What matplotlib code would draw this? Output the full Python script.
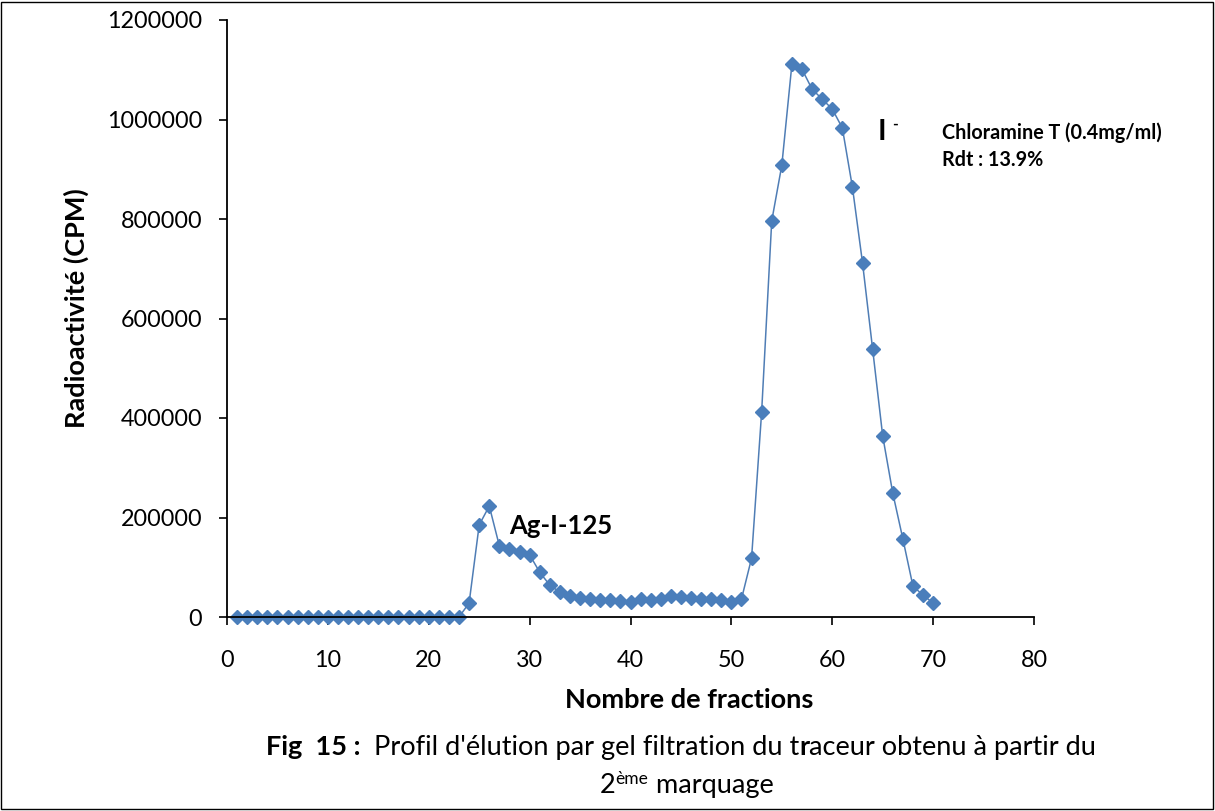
import matplotlib.pyplot as plt
from matplotlib.patches import Rectangle
from matplotlib.ticker import FuncFormatter

plt.rcParams['font.family'] = ['Lato', 'DejaVu Sans']

# Elution profile (fractions 1..70)
fractions = list(range(1, 71))
cpm = [0] * 23 + [
    28000, 185000, 223000, 143000, 137000, 131000, 125000, 90000, 64000, 50000,
    42000, 38000, 36000, 34000, 34000, 32000, 30000, 36000, 34000, 36000,
    42000, 40000, 38000, 36000, 36000, 34000, 30000, 36000, 118000, 412000,
    796000, 908000, 1111000, 1101000, 1061000, 1041000, 1021000, 983000, 864000, 712000,
    539000, 364000, 249000, 157000, 62000, 44000, 28000,
]

xticks = list(range(0, 90, 10))
yticks = list(range(0, 1400000, 200000))

W, H = 1215, 811
fig = plt.figure(figsize=(W / 100, H / 100), dpi=100)
ax = fig.add_axes([227 / W, 1 - 617 / H, (1034 - 227) / W, (617 - 20) / H])

ax.plot(fractions, cpm, color='#4F7DB5', lw=1.1, marker='D', ms=7,
        mfc='#4A7EBB', mec='#4A7EBB', clip_on=False)

ax.set_xlim(0, 80)
ax.set_ylim(0, 1200000)
ax.set_xticks(xticks)
ax.set_yticks(yticks)
ax.yaxis.set_major_formatter(FuncFormatter(lambda v, p: '%d' % v))
ax.tick_params(labelsize=16.8, direction='out', length=6, width=1.2, color='black')
ax.tick_params(axis='y', pad=12)
ax.tick_params(axis='x', pad=18)
ax.spines['top'].set_visible(False)
ax.spines['right'].set_visible(False)
for s in ['left', 'bottom']:
    ax.spines[s].set_linewidth(1.3)

ax.set_xlabel('Nombre de fractions', fontsize=19.5, fontweight='bold')
ax.set_ylabel('Radioactivité (CPM)', fontsize=19.5, fontweight='bold')
ax.xaxis.set_label_coords((689 - 227) / 807, -(688 - 617) / 597)
ax.yaxis.set_label_coords(-(227 - 89) / 807, (617 - 308) / 597)

ax.text(28, 183000, 'Ag-I-125', fontsize=18.5, fontweight='bold', va='center')
ax.text(64.5, 975000, 'I', fontsize=21, fontweight='bold', va='center')
ax.text(65.9, 990000, '-', fontsize=11, fontweight='bold', va='center')
ax.text(70.9, 973000, 'Chloramine T (0.4mg/ml)', fontsize=14.2, fontweight='bold', va='center')
ax.text(70.9, 918000, 'Rdt : 13.9%', fontsize=14.2, fontweight='bold', va='center')

# caption, built piece by piece so the bold parts sit inline
renderer = fig.canvas.get_renderer()


def chain(pieces, x0, y):
    x = x0
    for txt, weight, size, dy in pieces:
        t = fig.text(x / W, 1 - (y - dy) / H, txt, fontsize=size, fontweight=weight, va='baseline')
        bb = t.get_window_extent(renderer)
        x += bb.width
    return x


cap = 19.5
chain([('Fig  15 :  ', 'bold', cap, 0),
       ("Profil d'élution par gel filtration du t", 'normal', cap, 0),
       ('r', 'bold', cap, 0),
       ('aceur obtenu à partir du', 'normal', cap, 0)], 266, 755)
chain([('2', 'normal', cap, 0),
       ('ème', 'normal', 12.5, 9),
       (' marquage', 'normal', cap, 0)], 600, 793)

fig.patches.append(Rectangle((0.001, 0.002), 0.997, 0.996, transform=fig.transFigure,
                             fill=False, edgecolor='black', lw=1))

fig.savefig('out.png', dpi=100)
